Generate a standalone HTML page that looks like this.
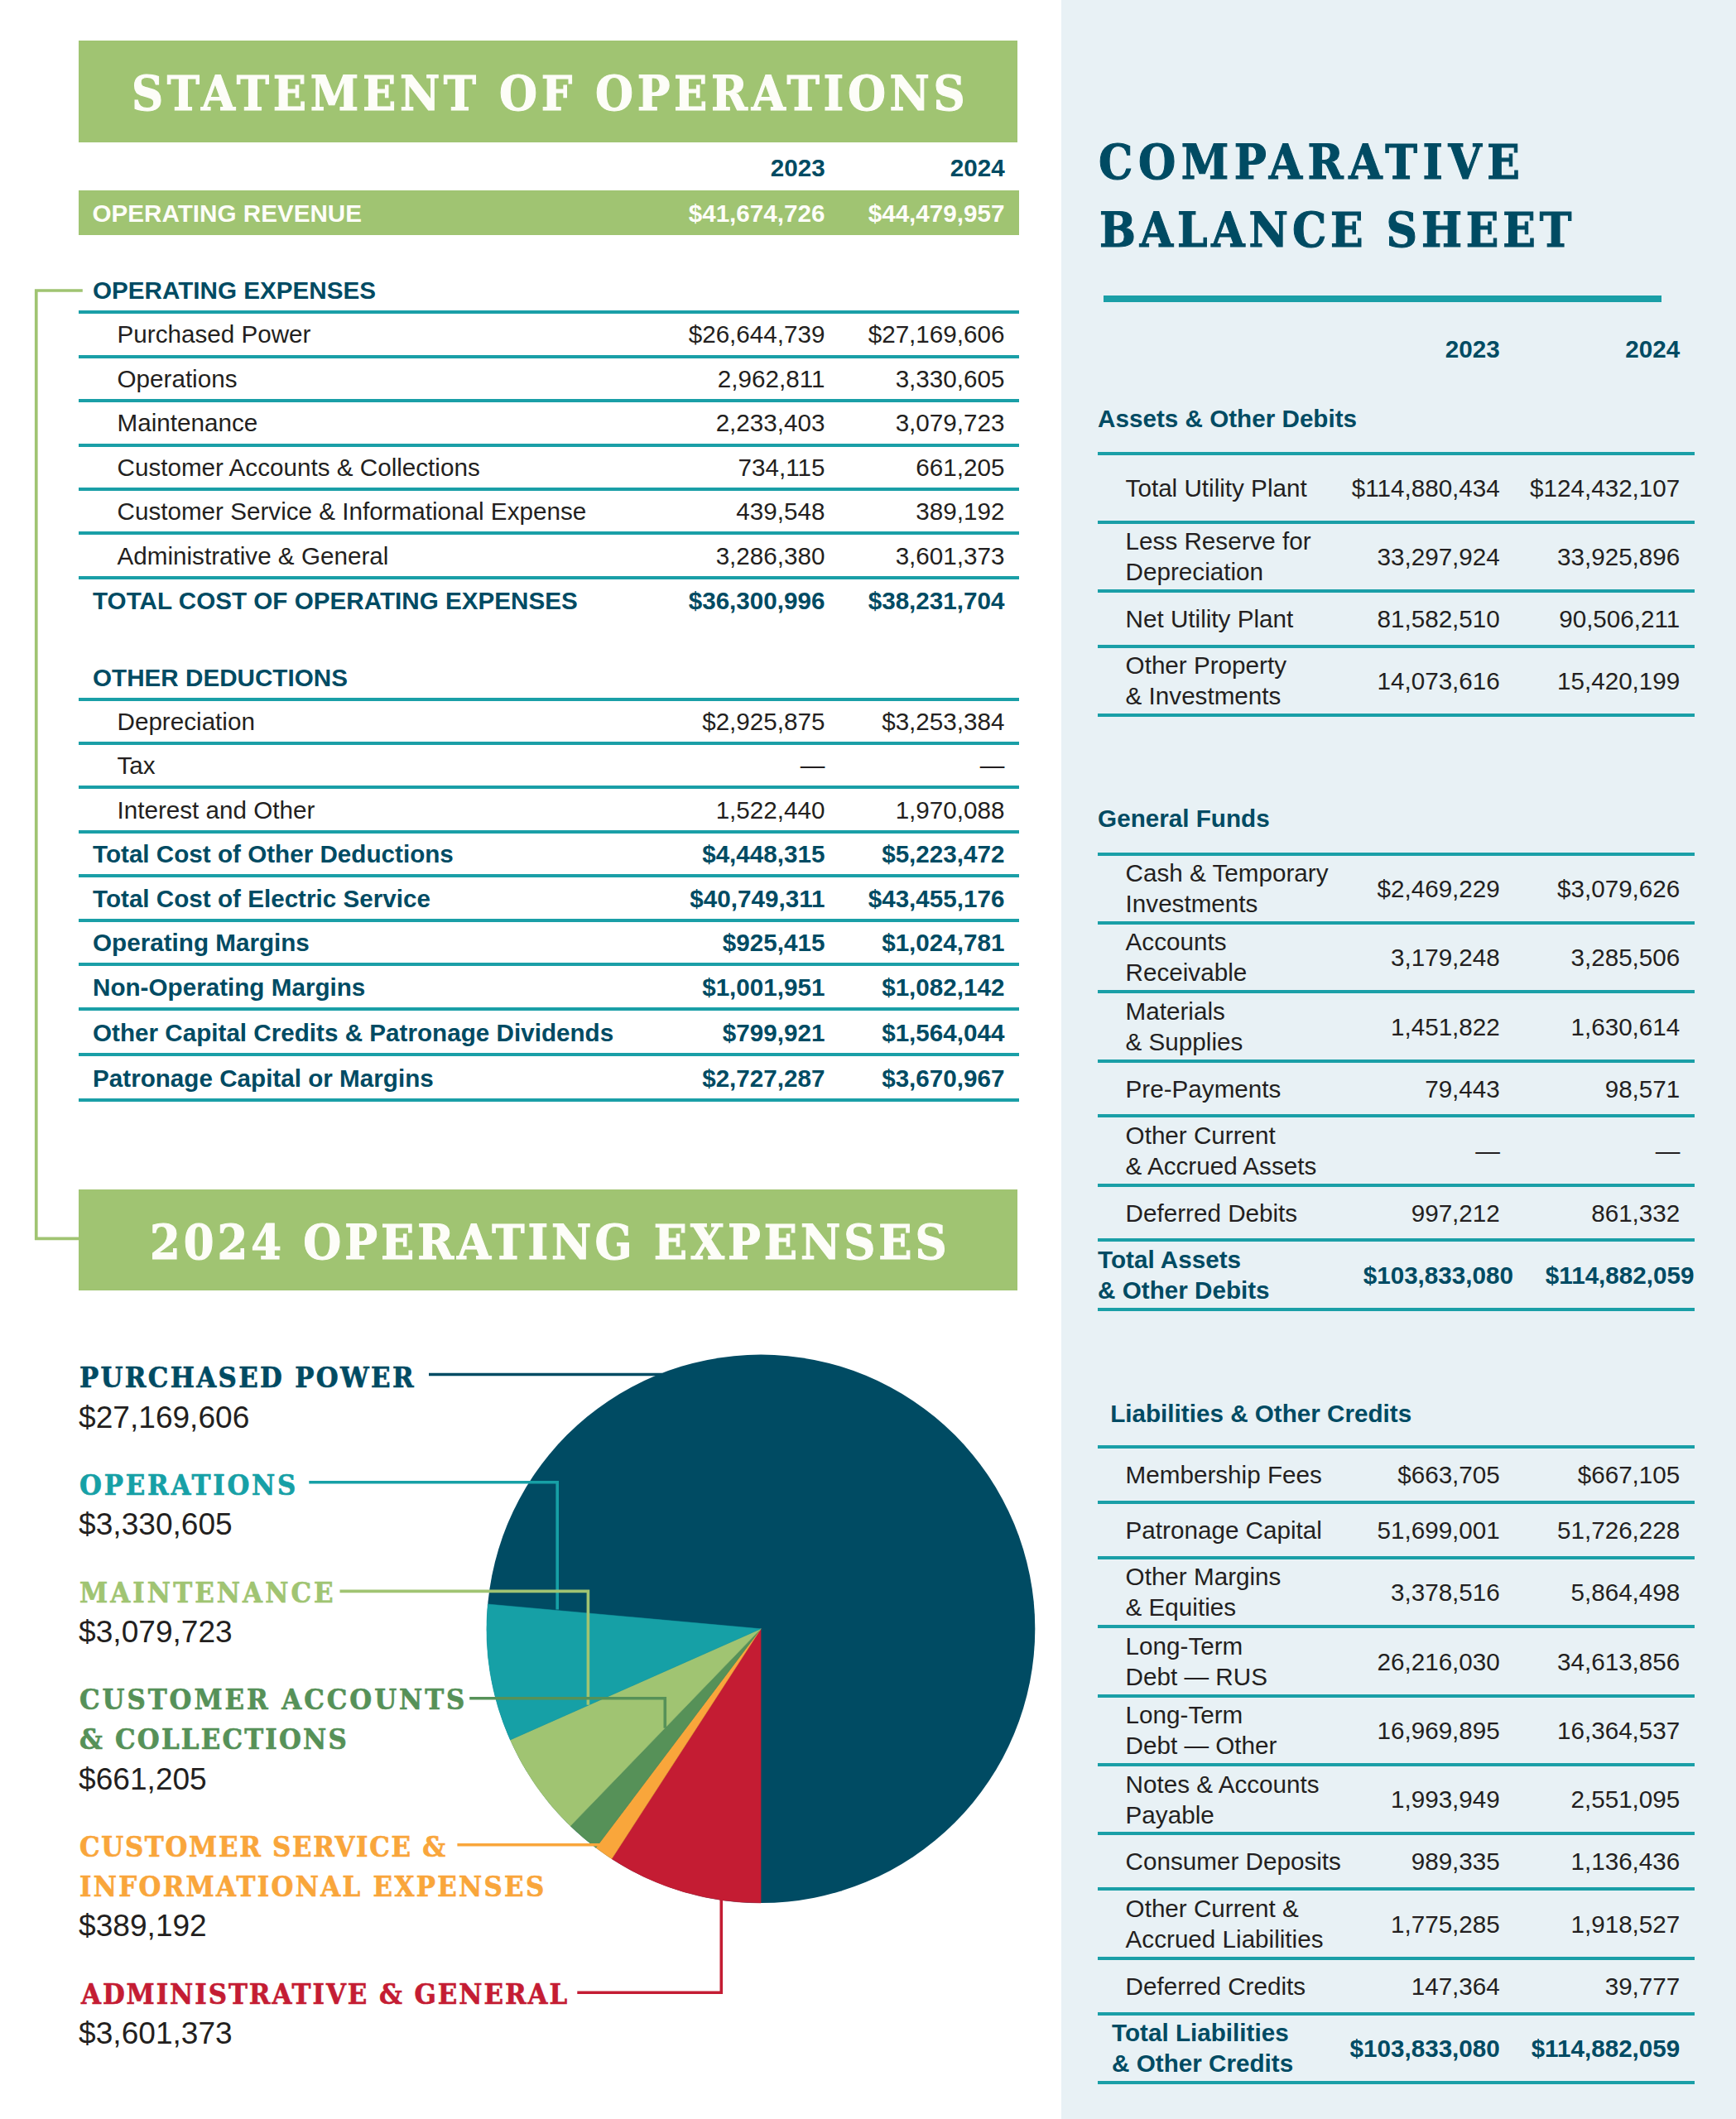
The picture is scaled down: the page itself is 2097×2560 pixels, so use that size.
<!DOCTYPE html>
<html lang="en"><head><meta charset="utf-8"><title>Statement of Operations</title><style>
html,body{margin:0;padding:0;background:#fff}
#pg{position:relative;width:2097px;height:2560px;overflow:hidden;background:#fff;font-family:"Liberation Sans",sans-serif}
.r{position:absolute}
.t{position:absolute;white-space:nowrap;line-height:1;font-family:"Liberation Sans",sans-serif;font-weight:400}
.b{font-weight:700}
.n{color:#004b63}.k{color:#231f20}.w{color:#fdfdf8}
.sl{font-family:"DejaVu Serif",serif;font-weight:700;transform:scaleX(0.9);transform-origin:0 0}
.ov{position:absolute;left:0;top:0}
</style></head><body><div id="pg">
<div class="r" style="left:1281.50px;top:0.00px;width:815.50px;height:2560.00px;background:#e8f1f5"></div>
<section id="statement-of-operations">
<div class="r" style="left:95.00px;top:49.00px;width:1134.30px;height:122.60px;background:#a0c472"></div>
<div class="t sl w" style="top:84.21px;left:158.80px;font-size:58.71px;letter-spacing:5.216px;-webkit-text-stroke:1.1px currentColor;">STATEMENT OF OPERATIONS</div>
<div class="t b n" style="top:188.30px;font-size:29.65px;right:1100.30px;">2023</div>
<div class="t b n" style="top:188.30px;font-size:29.65px;right:883.30px;">2024</div>
<div class="r" style="left:95.00px;top:229.80px;width:1135.70px;height:54.70px;background:#a0c472"></div>
<div class="t b w" style="top:242.90px;font-size:29.65px;left:111.50px;">OPERATING REVENUE</div>
<div class="t b w" style="top:242.90px;font-size:29.65px;right:1100.50px;">$41,674,726</div>
<div class="t b w" style="top:242.90px;font-size:29.65px;right:883.50px;">$44,479,957</div>
<div class="t b n" style="top:336.00px;font-size:29.65px;left:112.00px;">OPERATING EXPENSES</div>
<div class="r" style="left:95.00px;top:375.20px;width:1136.00px;height:4.00px;background:#1a9fa7"></div>
<div class="t k" style="top:389.40px;font-size:29.65px;left:141.50px;">Purchased Power</div>
<div class="t k" style="top:389.40px;font-size:29.65px;right:1100.50px;">$26,644,739</div>
<div class="t k" style="top:389.40px;font-size:29.65px;right:883.50px;">$27,169,606</div>
<div class="r" style="left:95.00px;top:428.65px;width:1136.00px;height:4.00px;background:#1a9fa7"></div>
<div class="t k" style="top:442.85px;font-size:29.65px;left:141.50px;">Operations</div>
<div class="t k" style="top:442.85px;font-size:29.65px;right:1100.50px;">2,962,811</div>
<div class="t k" style="top:442.85px;font-size:29.65px;right:883.50px;">3,330,605</div>
<div class="r" style="left:95.00px;top:482.10px;width:1136.00px;height:4.00px;background:#1a9fa7"></div>
<div class="t k" style="top:496.30px;font-size:29.65px;left:141.50px;">Maintenance</div>
<div class="t k" style="top:496.30px;font-size:29.65px;right:1100.50px;">2,233,403</div>
<div class="t k" style="top:496.30px;font-size:29.65px;right:883.50px;">3,079,723</div>
<div class="r" style="left:95.00px;top:535.55px;width:1136.00px;height:4.00px;background:#1a9fa7"></div>
<div class="t k" style="top:549.75px;font-size:29.65px;left:141.50px;">Customer Accounts &amp; Collections</div>
<div class="t k" style="top:549.75px;font-size:29.65px;right:1100.50px;">734,115</div>
<div class="t k" style="top:549.75px;font-size:29.65px;right:883.50px;">661,205</div>
<div class="r" style="left:95.00px;top:589.00px;width:1136.00px;height:4.00px;background:#1a9fa7"></div>
<div class="t k" style="top:603.20px;font-size:29.65px;left:141.50px;">Customer Service &amp; Informational Expense</div>
<div class="t k" style="top:603.20px;font-size:29.65px;right:1100.50px;">439,548</div>
<div class="t k" style="top:603.20px;font-size:29.65px;right:883.50px;">389,192</div>
<div class="r" style="left:95.00px;top:642.45px;width:1136.00px;height:4.00px;background:#1a9fa7"></div>
<div class="t k" style="top:656.65px;font-size:29.65px;left:141.50px;">Administrative &amp; General</div>
<div class="t k" style="top:656.65px;font-size:29.65px;right:1100.50px;">3,286,380</div>
<div class="t k" style="top:656.65px;font-size:29.65px;right:883.50px;">3,601,373</div>
<div class="r" style="left:95.00px;top:695.90px;width:1136.00px;height:4.00px;background:#1a9fa7"></div>
<div class="t b n" style="top:710.50px;font-size:29.65px;left:112.00px;">TOTAL COST OF OPERATING EXPENSES</div>
<div class="t b n" style="top:710.50px;font-size:29.65px;right:1100.50px;">$36,300,996</div>
<div class="t b n" style="top:710.50px;font-size:29.65px;right:883.50px;">$38,231,704</div>
<div class="t b n" style="top:804.20px;font-size:29.65px;left:112.00px;">OTHER DEDUCTIONS</div>
<div class="r" style="left:95.00px;top:842.50px;width:1136.00px;height:4.00px;background:#1a9fa7"></div>
<div class="t k" style="top:856.70px;font-size:29.65px;left:141.50px;">Depreciation</div>
<div class="t k" style="top:856.70px;font-size:29.65px;right:1100.50px;">$2,925,875</div>
<div class="t k" style="top:856.70px;font-size:29.65px;right:883.50px;">$3,253,384</div>
<div class="r" style="left:95.00px;top:895.95px;width:1136.00px;height:4.00px;background:#1a9fa7"></div>
<div class="t k" style="top:910.15px;font-size:29.65px;left:141.50px;">Tax</div>
<div class="t k" style="top:910.15px;font-size:29.65px;right:1100.50px;">—</div>
<div class="t k" style="top:910.15px;font-size:29.65px;right:883.50px;">—</div>
<div class="r" style="left:95.00px;top:949.40px;width:1136.00px;height:4.00px;background:#1a9fa7"></div>
<div class="t k" style="top:963.60px;font-size:29.65px;left:141.50px;">Interest and Other</div>
<div class="t k" style="top:963.60px;font-size:29.65px;right:1100.50px;">1,522,440</div>
<div class="t k" style="top:963.60px;font-size:29.65px;right:883.50px;">1,970,088</div>
<div class="r" style="left:95.00px;top:1002.70px;width:1136.00px;height:4.00px;background:#1a9fa7"></div>
<div class="t b n" style="top:1017.45px;font-size:29.65px;left:112.00px;">Total Cost of Other Deductions</div>
<div class="t b n" style="top:1017.45px;font-size:29.65px;right:1100.50px;">$4,448,315</div>
<div class="t b n" style="top:1017.45px;font-size:29.65px;right:883.50px;">$5,223,472</div>
<div class="r" style="left:95.00px;top:1056.20px;width:1136.00px;height:4.00px;background:#1a9fa7"></div>
<div class="t b n" style="top:1071.00px;font-size:29.65px;left:112.00px;">Total Cost of Electric Service</div>
<div class="t b n" style="top:1071.00px;font-size:29.65px;right:1100.50px;">$40,749,311</div>
<div class="t b n" style="top:1071.00px;font-size:29.65px;right:883.50px;">$43,455,176</div>
<div class="r" style="left:95.00px;top:1109.80px;width:1136.00px;height:4.00px;background:#1a9fa7"></div>
<div class="t b n" style="top:1124.30px;font-size:29.65px;left:112.00px;">Operating Margins</div>
<div class="t b n" style="top:1124.30px;font-size:29.65px;right:1100.50px;">$925,415</div>
<div class="t b n" style="top:1124.30px;font-size:29.65px;right:883.50px;">$1,024,781</div>
<div class="r" style="left:95.00px;top:1162.80px;width:1136.00px;height:4.00px;background:#1a9fa7"></div>
<div class="t b n" style="top:1178.10px;font-size:29.65px;left:112.00px;">Non-Operating Margins</div>
<div class="t b n" style="top:1178.10px;font-size:29.65px;right:1100.50px;">$1,001,951</div>
<div class="t b n" style="top:1178.10px;font-size:29.65px;right:883.50px;">$1,082,142</div>
<div class="r" style="left:95.00px;top:1217.40px;width:1136.00px;height:4.00px;background:#1a9fa7"></div>
<div class="t b n" style="top:1232.85px;font-size:29.65px;left:112.00px;">Other Capital Credits &amp; Patronage Dividends</div>
<div class="t b n" style="top:1232.85px;font-size:29.65px;right:1100.50px;">$799,921</div>
<div class="t b n" style="top:1232.85px;font-size:29.65px;right:883.50px;">$1,564,044</div>
<div class="r" style="left:95.00px;top:1272.30px;width:1136.00px;height:4.00px;background:#1a9fa7"></div>
<div class="t b n" style="top:1287.75px;font-size:29.65px;left:112.00px;">Patronage Capital or Margins</div>
<div class="t b n" style="top:1287.75px;font-size:29.65px;right:1100.50px;">$2,727,287</div>
<div class="t b n" style="top:1287.75px;font-size:29.65px;right:883.50px;">$3,670,967</div>
<div class="r" style="left:95.00px;top:1327.20px;width:1136.00px;height:4.00px;background:#1a9fa7"></div>
</section>
<section id="operating-expenses-chart">
<div class="r" style="left:95.00px;top:1437.00px;width:1134.30px;height:122.30px;background:#a0c472"></div>
<div class="t sl w" style="top:1471.71px;left:181.10px;font-size:58.71px;letter-spacing:4.410px;-webkit-text-stroke:1.1px currentColor;">2024 OPERATING EXPENSES</div>
<svg class="ov" width="2097" height="2560" viewBox="0 0 2097 2560">
<path d="M99.8 351 H43.75 V1496.3 H96" fill="none" stroke="#a0c472" stroke-width="3.7"/>
<circle cx="919.1" cy="1967.8" r="331.2" fill="#004b63"/>
<path d="M919.1 1967.8 L919.10 2299.00 A331.2 331.2 0 0 1 738.91 2245.69 Z" fill="#c41c33" stroke="#c41c33" stroke-width="0.5" stroke-linejoin="round"/>
<path d="M919.1 1967.8 L738.91 2245.69 A331.2 331.2 0 0 1 719.78 2232.31 Z" fill="#f9a63b" stroke="#f9a63b" stroke-width="0.5" stroke-linejoin="round"/>
<path d="M919.1 1967.8 L719.78 2232.31 A331.2 331.2 0 0 1 689.03 2206.05 Z" fill="#569158" stroke="#569158" stroke-width="0.5" stroke-linejoin="round"/>
<path d="M919.1 1967.8 L689.03 2206.05 A331.2 331.2 0 0 1 616.30 2101.98 Z" fill="#a0c472" stroke="#a0c472" stroke-width="0.5" stroke-linejoin="round"/>
<path d="M919.1 1967.8 L616.30 2101.98 A331.2 331.2 0 0 1 589.24 1938.01 Z" fill="#16a0a6" stroke="#16a0a6" stroke-width="0.5" stroke-linejoin="round"/>
<path d="M518 1660.5 H800" fill="none" stroke="#004b63" stroke-width="3.6"/>
<path d="M373.3 1790.8 H673.2 V1944.6" fill="none" stroke="#16a0a6" stroke-width="3.6"/>
<path d="M410.5 1922.4 H710.4 V2059.7" fill="none" stroke="#a0c472" stroke-width="3.6"/>
<path d="M567.2 2051.7 H803.3 V2087.7" fill="none" stroke="#569158" stroke-width="3.6"/>
<path d="M552.4 2228.8 H725" fill="none" stroke="#f9a63b" stroke-width="3.6"/>
<path d="M697.3 2407.2 H871.3 V2295" fill="none" stroke="#c41c33" stroke-width="3.6"/>
</svg>
<div class="t sl " style="top:1647.00px;left:96.20px;font-size:34.29px;letter-spacing:2.617px;-webkit-text-stroke:0.7px currentColor;color:#004b63;">PURCHASED POWER</div>
<div class="t k" style="top:1693.59px;font-size:37.1px;left:95.10px;">$27,169,606</div>
<div class="t sl " style="top:1776.60px;left:96.20px;font-size:34.29px;letter-spacing:3.105px;-webkit-text-stroke:0.7px currentColor;color:#16a0a6;">OPERATIONS</div>
<div class="t k" style="top:1823.19px;font-size:37.1px;left:95.10px;">$3,330,605</div>
<div class="t sl " style="top:1906.60px;left:96.20px;font-size:34.29px;letter-spacing:3.445px;-webkit-text-stroke:0.7px currentColor;color:#a0c472;">MAINTENANCE</div>
<div class="t k" style="top:1953.19px;font-size:37.1px;left:95.10px;">$3,079,723</div>
<div class="t sl " style="top:2036.20px;left:96.20px;font-size:34.29px;letter-spacing:3.297px;-webkit-text-stroke:0.7px currentColor;color:#569158;">CUSTOMER ACCOUNTS</div>
<div class="t sl " style="top:2084.20px;left:96.20px;font-size:34.29px;letter-spacing:2.458px;-webkit-text-stroke:0.7px currentColor;color:#569158;">&amp; COLLECTIONS</div>
<div class="t k" style="top:2130.79px;font-size:37.1px;left:95.10px;">$661,205</div>
<div class="t sl " style="top:2213.90px;left:96.20px;font-size:34.29px;letter-spacing:1.899px;-webkit-text-stroke:0.7px currentColor;color:#f9a63b;">CUSTOMER SERVICE &amp;</div>
<div class="t sl " style="top:2261.90px;left:96.20px;font-size:34.29px;letter-spacing:2.562px;-webkit-text-stroke:0.7px currentColor;color:#f9a63b;">INFORMATIONAL EXPENSES</div>
<div class="t k" style="top:2308.49px;font-size:37.1px;left:95.10px;">$389,192</div>
<div class="t sl " style="top:2391.60px;left:98.00px;font-size:34.29px;letter-spacing:2.174px;-webkit-text-stroke:0.7px currentColor;color:#c41c33;">ADMINISTRATIVE &amp; GENERAL</div>
<div class="t k" style="top:2438.19px;font-size:37.1px;left:95.10px;">$3,601,373</div>
</section>
<aside id="comparative-balance-sheet">
<div class="t sl n" style="top:168.23px;left:1326.80px;font-size:57.75px;letter-spacing:7.278px;-webkit-text-stroke:1.1px currentColor;">COMPARATIVE</div>
<div class="t sl n" style="top:249.73px;left:1327.90px;font-size:57.75px;letter-spacing:5.390px;-webkit-text-stroke:1.1px currentColor;">BALANCE SHEET</div>
<div class="r" style="left:1332.50px;top:357.00px;width:674.00px;height:7.80px;background:#1a9fa7"></div>
<div class="t b n" style="top:407.40px;font-size:29.65px;right:285.20px;">2023</div>
<div class="t b n" style="top:407.40px;font-size:29.65px;right:67.70px;">2024</div>
<div class="t b n" style="top:490.60px;font-size:29.65px;left:1326.10px;">Assets &amp; Other Debits</div>
<div class="r" style="left:1326.20px;top:545.50px;width:720.60px;height:4.00px;background:#1a9fa7"></div>
<div class="t k" style="top:574.70px;font-size:29.65px;left:1359.60px;">Total Utility Plant</div>
<div class="t k" style="top:574.70px;font-size:29.65px;right:285.20px;">$114,880,434</div>
<div class="t k" style="top:574.70px;font-size:29.65px;right:67.70px;">$124,432,107</div>
<div class="r" style="left:1326.20px;top:628.90px;width:720.60px;height:4.00px;background:#1a9fa7"></div>
<div class="t k" style="top:639.40px;font-size:29.65px;left:1359.60px;">Less Reserve for</div>
<div class="t k" style="top:676.40px;font-size:29.65px;left:1359.60px;">Depreciation</div>
<div class="t k" style="top:658.10px;font-size:29.65px;right:285.20px;">33,297,924</div>
<div class="t k" style="top:658.10px;font-size:29.65px;right:67.70px;">33,925,896</div>
<div class="r" style="left:1326.20px;top:712.30px;width:720.60px;height:4.00px;background:#1a9fa7"></div>
<div class="t k" style="top:733.10px;font-size:29.65px;left:1359.60px;">Net Utility Plant</div>
<div class="t k" style="top:733.10px;font-size:29.65px;right:285.20px;">81,582,510</div>
<div class="t k" style="top:733.10px;font-size:29.65px;right:67.70px;">90,506,211</div>
<div class="r" style="left:1326.20px;top:778.90px;width:720.60px;height:4.00px;background:#1a9fa7"></div>
<div class="t k" style="top:789.40px;font-size:29.65px;left:1359.60px;">Other Property</div>
<div class="t k" style="top:826.40px;font-size:29.65px;left:1359.60px;">&amp; Investments</div>
<div class="t k" style="top:808.10px;font-size:29.65px;right:285.20px;">14,073,616</div>
<div class="t k" style="top:808.10px;font-size:29.65px;right:67.70px;">15,420,199</div>
<div class="r" style="left:1326.20px;top:862.30px;width:720.60px;height:4.00px;background:#1a9fa7"></div>
<div class="t b n" style="top:973.90px;font-size:29.65px;left:1326.10px;">General Funds</div>
<div class="r" style="left:1326.20px;top:1029.50px;width:720.60px;height:4.00px;background:#1a9fa7"></div>
<div class="t k" style="top:1040.00px;font-size:29.65px;left:1359.60px;">Cash &amp; Temporary</div>
<div class="t k" style="top:1077.00px;font-size:29.65px;left:1359.60px;">Investments</div>
<div class="t k" style="top:1058.70px;font-size:29.65px;right:285.20px;">$2,469,229</div>
<div class="t k" style="top:1058.70px;font-size:29.65px;right:67.70px;">$3,079,626</div>
<div class="r" style="left:1326.20px;top:1112.90px;width:720.60px;height:4.00px;background:#1a9fa7"></div>
<div class="t k" style="top:1123.40px;font-size:29.65px;left:1359.60px;">Accounts</div>
<div class="t k" style="top:1160.40px;font-size:29.65px;left:1359.60px;">Receivable</div>
<div class="t k" style="top:1142.10px;font-size:29.65px;right:285.20px;">3,179,248</div>
<div class="t k" style="top:1142.10px;font-size:29.65px;right:67.70px;">3,285,506</div>
<div class="r" style="left:1326.20px;top:1196.30px;width:720.60px;height:4.00px;background:#1a9fa7"></div>
<div class="t k" style="top:1206.80px;font-size:29.65px;left:1359.60px;">Materials</div>
<div class="t k" style="top:1243.80px;font-size:29.65px;left:1359.60px;">&amp; Supplies</div>
<div class="t k" style="top:1225.50px;font-size:29.65px;right:285.20px;">1,451,822</div>
<div class="t k" style="top:1225.50px;font-size:29.65px;right:67.70px;">1,630,614</div>
<div class="r" style="left:1326.20px;top:1279.70px;width:720.60px;height:4.00px;background:#1a9fa7"></div>
<div class="t k" style="top:1300.50px;font-size:29.65px;left:1359.60px;">Pre-Payments</div>
<div class="t k" style="top:1300.50px;font-size:29.65px;right:285.20px;">79,443</div>
<div class="t k" style="top:1300.50px;font-size:29.65px;right:67.70px;">98,571</div>
<div class="r" style="left:1326.20px;top:1346.30px;width:720.60px;height:4.00px;background:#1a9fa7"></div>
<div class="t k" style="top:1356.80px;font-size:29.65px;left:1359.60px;">Other Current</div>
<div class="t k" style="top:1393.80px;font-size:29.65px;left:1359.60px;">&amp; Accrued Assets</div>
<div class="t k" style="top:1375.50px;font-size:29.65px;right:285.20px;">—</div>
<div class="t k" style="top:1375.50px;font-size:29.65px;right:67.70px;">—</div>
<div class="r" style="left:1326.20px;top:1429.70px;width:720.60px;height:4.00px;background:#1a9fa7"></div>
<div class="t k" style="top:1450.50px;font-size:29.65px;left:1359.60px;">Deferred Debits</div>
<div class="t k" style="top:1450.50px;font-size:29.65px;right:285.20px;">997,212</div>
<div class="t k" style="top:1450.50px;font-size:29.65px;right:67.70px;">861,332</div>
<div class="r" style="left:1326.20px;top:1496.30px;width:720.60px;height:4.00px;background:#1a9fa7"></div>
<div class="t b n" style="top:1506.80px;font-size:29.65px;left:1326.10px;">Total Assets</div>
<div class="t b n" style="top:1543.80px;font-size:29.65px;left:1326.10px;">&amp; Other Debits</div>
<div class="t b n" style="top:1525.50px;font-size:29.65px;right:269.00px;">$103,833,080</div>
<div class="t b n" style="top:1525.50px;font-size:29.65px;right:50.50px;">$114,882,059</div>
<div class="r" style="left:1326.20px;top:1579.70px;width:720.60px;height:4.00px;background:#1a9fa7"></div>
<div class="t b n" style="top:1692.70px;font-size:29.65px;left:1341.20px;">Liabilities &amp; Other Credits</div>
<div class="r" style="left:1326.20px;top:1746.00px;width:720.60px;height:4.00px;background:#1a9fa7"></div>
<div class="t k" style="top:1767.00px;font-size:29.65px;left:1359.60px;">Membership Fees</div>
<div class="t k" style="top:1767.00px;font-size:29.65px;right:285.20px;">$663,705</div>
<div class="t k" style="top:1767.00px;font-size:29.65px;right:67.70px;">$667,105</div>
<div class="r" style="left:1326.20px;top:1813.00px;width:720.60px;height:4.00px;background:#1a9fa7"></div>
<div class="t k" style="top:1834.00px;font-size:29.65px;left:1359.60px;">Patronage Capital</div>
<div class="t k" style="top:1834.00px;font-size:29.65px;right:285.20px;">51,699,001</div>
<div class="t k" style="top:1834.00px;font-size:29.65px;right:67.70px;">51,726,228</div>
<div class="r" style="left:1326.20px;top:1880.00px;width:720.60px;height:4.00px;background:#1a9fa7"></div>
<div class="t k" style="top:1890.48px;font-size:29.65px;left:1359.60px;">Other Margins</div>
<div class="t k" style="top:1927.48px;font-size:29.65px;left:1359.60px;">&amp; Equities</div>
<div class="t k" style="top:1909.18px;font-size:29.65px;right:285.20px;">3,378,516</div>
<div class="t k" style="top:1909.18px;font-size:29.65px;right:67.70px;">5,864,498</div>
<div class="r" style="left:1326.20px;top:1963.35px;width:720.60px;height:4.00px;background:#1a9fa7"></div>
<div class="t k" style="top:1973.83px;font-size:29.65px;left:1359.60px;">Long-Term</div>
<div class="t k" style="top:2010.83px;font-size:29.65px;left:1359.60px;">Debt — RUS</div>
<div class="t k" style="top:1992.53px;font-size:29.65px;right:285.20px;">26,216,030</div>
<div class="t k" style="top:1992.53px;font-size:29.65px;right:67.70px;">34,613,856</div>
<div class="r" style="left:1326.20px;top:2046.70px;width:720.60px;height:4.00px;background:#1a9fa7"></div>
<div class="t k" style="top:2057.18px;font-size:29.65px;left:1359.60px;">Long-Term</div>
<div class="t k" style="top:2094.18px;font-size:29.65px;left:1359.60px;">Debt — Other</div>
<div class="t k" style="top:2075.88px;font-size:29.65px;right:285.20px;">16,969,895</div>
<div class="t k" style="top:2075.88px;font-size:29.65px;right:67.70px;">16,364,537</div>
<div class="r" style="left:1326.20px;top:2130.05px;width:720.60px;height:4.00px;background:#1a9fa7"></div>
<div class="t k" style="top:2140.53px;font-size:29.65px;left:1359.60px;">Notes &amp; Accounts</div>
<div class="t k" style="top:2177.53px;font-size:29.65px;left:1359.60px;">Payable</div>
<div class="t k" style="top:2159.23px;font-size:29.65px;right:285.20px;">1,993,949</div>
<div class="t k" style="top:2159.23px;font-size:29.65px;right:67.70px;">2,551,095</div>
<div class="r" style="left:1326.20px;top:2213.40px;width:720.60px;height:4.00px;background:#1a9fa7"></div>
<div class="t k" style="top:2234.40px;font-size:29.65px;left:1359.60px;">Consumer Deposits</div>
<div class="t k" style="top:2234.40px;font-size:29.65px;right:285.20px;">989,335</div>
<div class="t k" style="top:2234.40px;font-size:29.65px;right:67.70px;">1,136,436</div>
<div class="r" style="left:1326.20px;top:2280.40px;width:720.60px;height:4.00px;background:#1a9fa7"></div>
<div class="t k" style="top:2290.88px;font-size:29.65px;left:1359.60px;">Other Current &amp;</div>
<div class="t k" style="top:2327.88px;font-size:29.65px;left:1359.60px;">Accrued Liabilities</div>
<div class="t k" style="top:2309.58px;font-size:29.65px;right:285.20px;">1,775,285</div>
<div class="t k" style="top:2309.58px;font-size:29.65px;right:67.70px;">1,918,527</div>
<div class="r" style="left:1326.20px;top:2363.75px;width:720.60px;height:4.00px;background:#1a9fa7"></div>
<div class="t k" style="top:2384.75px;font-size:29.65px;left:1359.60px;">Deferred Credits</div>
<div class="t k" style="top:2384.75px;font-size:29.65px;right:285.20px;">147,364</div>
<div class="t k" style="top:2384.75px;font-size:29.65px;right:67.70px;">39,777</div>
<div class="r" style="left:1326.20px;top:2430.75px;width:720.60px;height:4.00px;background:#1a9fa7"></div>
<div class="t b n" style="top:2441.23px;font-size:29.65px;left:1343.10px;">Total Liabilities</div>
<div class="t b n" style="top:2478.23px;font-size:29.65px;left:1343.10px;">&amp; Other Credits</div>
<div class="t b n" style="top:2459.93px;font-size:29.65px;right:285.20px;">$103,833,080</div>
<div class="t b n" style="top:2459.93px;font-size:29.65px;right:67.70px;">$114,882,059</div>
<div class="r" style="left:1326.20px;top:2514.10px;width:720.60px;height:4.00px;background:#1a9fa7"></div>
</aside>
</div></body></html>
